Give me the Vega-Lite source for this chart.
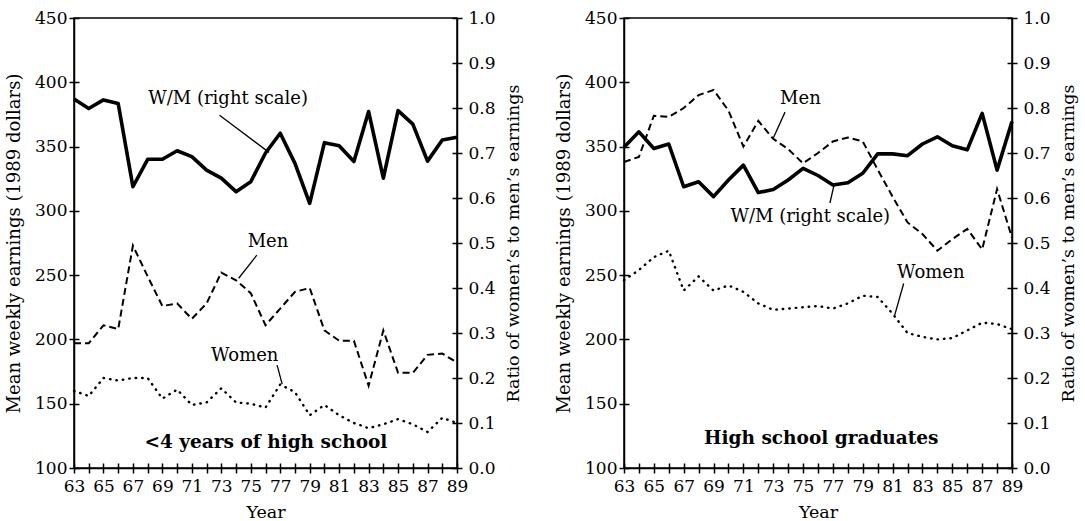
{
  "$schema": "https://vega.github.io/schema/vega-lite/v6.json",
  "background": "white",
  "padding": {"left": 4, "top": 8, "right": 5, "bottom": 5},
  "spacing": 31,
  "config": {
    "font": "DejaVu Serif",
    "view": {"stroke": "black", "strokeWidth": 1.5},
    "axis": {
      "grid": false, "labelOverlap": false, "tickCount": 40,
      "domainColor": "black", "domainWidth": 1.5,
      "tickColor": "black", "tickWidth": 1.5, "tickSize": 5,
      "labelColor": "black", "labelFont": "DejaVu Serif", "labelFontSize": 17,
      "titleColor": "black", "titleFont": "DejaVu Serif", "titleFontSize": 17.5, "titleFontWeight": "normal"
    },
    "text": {"font": "DejaVu Serif", "fontSize": 18, "color": "black"}
  },
  "datasets": {
    "earn": [
      {"panel":"lt4","series":"Men","year":1963,"value":197},{"panel":"lt4","series":"Men","year":1964,"value":197},{"panel":"lt4","series":"Men","year":1965,"value":211},{"panel":"lt4","series":"Men","year":1966,"value":208},{"panel":"lt4","series":"Men","year":1967,"value":273},{"panel":"lt4","series":"Men","year":1968,"value":249},{"panel":"lt4","series":"Men","year":1969,"value":226},{"panel":"lt4","series":"Men","year":1970,"value":228},{"panel":"lt4","series":"Men","year":1971,"value":216},{"panel":"lt4","series":"Men","year":1972,"value":228},{"panel":"lt4","series":"Men","year":1973,"value":252},{"panel":"lt4","series":"Men","year":1974,"value":246},{"panel":"lt4","series":"Men","year":1975,"value":236},{"panel":"lt4","series":"Men","year":1976,"value":211},{"panel":"lt4","series":"Men","year":1977,"value":224},{"panel":"lt4","series":"Men","year":1978,"value":237},{"panel":"lt4","series":"Men","year":1979,"value":240},{"panel":"lt4","series":"Men","year":1980,"value":207},{"panel":"lt4","series":"Men","year":1981,"value":199},{"panel":"lt4","series":"Men","year":1982,"value":199},{"panel":"lt4","series":"Men","year":1983,"value":164},{"panel":"lt4","series":"Men","year":1984,"value":207},{"panel":"lt4","series":"Men","year":1985,"value":174},{"panel":"lt4","series":"Men","year":1986,"value":174},{"panel":"lt4","series":"Men","year":1987,"value":188},{"panel":"lt4","series":"Men","year":1988,"value":189},{"panel":"lt4","series":"Men","year":1989,"value":182},
      {"panel":"lt4","series":"Women","year":1963,"value":160},{"panel":"lt4","series":"Women","year":1964,"value":156},{"panel":"lt4","series":"Women","year":1965,"value":170},{"panel":"lt4","series":"Women","year":1966,"value":168},{"panel":"lt4","series":"Women","year":1967,"value":170},{"panel":"lt4","series":"Women","year":1968,"value":170},{"panel":"lt4","series":"Women","year":1969,"value":154},{"panel":"lt4","series":"Women","year":1970,"value":161},{"panel":"lt4","series":"Women","year":1971,"value":149},{"panel":"lt4","series":"Women","year":1972,"value":151},{"panel":"lt4","series":"Women","year":1973,"value":162},{"panel":"lt4","series":"Women","year":1974,"value":151},{"panel":"lt4","series":"Women","year":1975,"value":150},{"panel":"lt4","series":"Women","year":1976,"value":147},{"panel":"lt4","series":"Women","year":1977,"value":165},{"panel":"lt4","series":"Women","year":1978,"value":159},{"panel":"lt4","series":"Women","year":1979,"value":141},{"panel":"lt4","series":"Women","year":1980,"value":149},{"panel":"lt4","series":"Women","year":1981,"value":141},{"panel":"lt4","series":"Women","year":1982,"value":135},{"panel":"lt4","series":"Women","year":1983,"value":131},{"panel":"lt4","series":"Women","year":1984,"value":134},{"panel":"lt4","series":"Women","year":1985,"value":138},{"panel":"lt4","series":"Women","year":1986,"value":134},{"panel":"lt4","series":"Women","year":1987,"value":128},{"panel":"lt4","series":"Women","year":1988,"value":139},{"panel":"lt4","series":"Women","year":1989,"value":135},
      {"panel":"lt4","series":"WM","year":1963,"value":0.820},{"panel":"lt4","series":"WM","year":1964,"value":0.799},{"panel":"lt4","series":"WM","year":1965,"value":0.818},{"panel":"lt4","series":"WM","year":1966,"value":0.810},{"panel":"lt4","series":"WM","year":1967,"value":0.625},{"panel":"lt4","series":"WM","year":1968,"value":0.686},{"panel":"lt4","series":"WM","year":1969,"value":0.686},{"panel":"lt4","series":"WM","year":1970,"value":0.705},{"panel":"lt4","series":"WM","year":1971,"value":0.692},{"panel":"lt4","series":"WM","year":1972,"value":0.662},{"panel":"lt4","series":"WM","year":1973,"value":0.644},{"panel":"lt4","series":"WM","year":1974,"value":0.614},{"panel":"lt4","series":"WM","year":1975,"value":0.636},{"panel":"lt4","series":"WM","year":1976,"value":0.700},{"panel":"lt4","series":"WM","year":1977,"value":0.744},{"panel":"lt4","series":"WM","year":1978,"value":0.677},{"panel":"lt4","series":"WM","year":1979,"value":0.588},{"panel":"lt4","series":"WM","year":1980,"value":0.723},{"panel":"lt4","series":"WM","year":1981,"value":0.716},{"panel":"lt4","series":"WM","year":1982,"value":0.681},{"panel":"lt4","series":"WM","year":1983,"value":0.792},{"panel":"lt4","series":"WM","year":1984,"value":0.644},{"panel":"lt4","series":"WM","year":1985,"value":0.794},{"panel":"lt4","series":"WM","year":1986,"value":0.764},{"panel":"lt4","series":"WM","year":1987,"value":0.682},{"panel":"lt4","series":"WM","year":1988,"value":0.729},{"panel":"lt4","series":"WM","year":1989,"value":0.735},
      {"panel":"hs","series":"Men","year":1963,"value":338},{"panel":"hs","series":"Men","year":1964,"value":342},{"panel":"hs","series":"Men","year":1965,"value":374},{"panel":"hs","series":"Men","year":1966,"value":373},{"panel":"hs","series":"Men","year":1967,"value":380},{"panel":"hs","series":"Men","year":1968,"value":390},{"panel":"hs","series":"Men","year":1969,"value":394},{"panel":"hs","series":"Men","year":1970,"value":378},{"panel":"hs","series":"Men","year":1971,"value":350},{"panel":"hs","series":"Men","year":1972,"value":370},{"panel":"hs","series":"Men","year":1973,"value":356},{"panel":"hs","series":"Men","year":1974,"value":348},{"panel":"hs","series":"Men","year":1975,"value":337},{"panel":"hs","series":"Men","year":1976,"value":345},{"panel":"hs","series":"Men","year":1977,"value":354},{"panel":"hs","series":"Men","year":1978,"value":357},{"panel":"hs","series":"Men","year":1979,"value":354},{"panel":"hs","series":"Men","year":1980,"value":332},{"panel":"hs","series":"Men","year":1981,"value":311},{"panel":"hs","series":"Men","year":1982,"value":291},{"panel":"hs","series":"Men","year":1983,"value":282},{"panel":"hs","series":"Men","year":1984,"value":269},{"panel":"hs","series":"Men","year":1985,"value":278},{"panel":"hs","series":"Men","year":1986,"value":286},{"panel":"hs","series":"Men","year":1987,"value":270},{"panel":"hs","series":"Men","year":1988,"value":317},{"panel":"hs","series":"Men","year":1989,"value":279},
      {"panel":"hs","series":"Women","year":1963,"value":246},{"panel":"hs","series":"Women","year":1964,"value":254},{"panel":"hs","series":"Women","year":1965,"value":264},{"panel":"hs","series":"Women","year":1966,"value":269},{"panel":"hs","series":"Women","year":1967,"value":238},{"panel":"hs","series":"Women","year":1968,"value":249},{"panel":"hs","series":"Women","year":1969,"value":238},{"panel":"hs","series":"Women","year":1970,"value":242},{"panel":"hs","series":"Women","year":1971,"value":237},{"panel":"hs","series":"Women","year":1972,"value":228},{"panel":"hs","series":"Women","year":1973,"value":223},{"panel":"hs","series":"Women","year":1974,"value":224},{"panel":"hs","series":"Women","year":1975,"value":225},{"panel":"hs","series":"Women","year":1976,"value":226},{"panel":"hs","series":"Women","year":1977,"value":224},{"panel":"hs","series":"Women","year":1978,"value":228},{"panel":"hs","series":"Women","year":1979,"value":234},{"panel":"hs","series":"Women","year":1980,"value":233},{"panel":"hs","series":"Women","year":1981,"value":220},{"panel":"hs","series":"Women","year":1982,"value":205},{"panel":"hs","series":"Women","year":1983,"value":202},{"panel":"hs","series":"Women","year":1984,"value":200},{"panel":"hs","series":"Women","year":1985,"value":201},{"panel":"hs","series":"Women","year":1986,"value":207},{"panel":"hs","series":"Women","year":1987,"value":213},{"panel":"hs","series":"Women","year":1988,"value":212},{"panel":"hs","series":"Women","year":1989,"value":208},
      {"panel":"hs","series":"WM","year":1963,"value":0.713},{"panel":"hs","series":"WM","year":1964,"value":0.747},{"panel":"hs","series":"WM","year":1965,"value":0.710},{"panel":"hs","series":"WM","year":1966,"value":0.720},{"panel":"hs","series":"WM","year":1967,"value":0.625},{"panel":"hs","series":"WM","year":1968,"value":0.636},{"panel":"hs","series":"WM","year":1969,"value":0.603},{"panel":"hs","series":"WM","year":1970,"value":0.640},{"panel":"hs","series":"WM","year":1971,"value":0.673},{"panel":"hs","series":"WM","year":1972,"value":0.612},{"panel":"hs","series":"WM","year":1973,"value":0.619},{"panel":"hs","series":"WM","year":1974,"value":0.640},{"panel":"hs","series":"WM","year":1975,"value":0.666},{"panel":"hs","series":"WM","year":1976,"value":0.650},{"panel":"hs","series":"WM","year":1977,"value":0.629},{"panel":"hs","series":"WM","year":1978,"value":0.634},{"panel":"hs","series":"WM","year":1979,"value":0.655},{"panel":"hs","series":"WM","year":1980,"value":0.698},{"panel":"hs","series":"WM","year":1981,"value":0.698},{"panel":"hs","series":"WM","year":1982,"value":0.694},{"panel":"hs","series":"WM","year":1983,"value":0.720},{"panel":"hs","series":"WM","year":1984,"value":0.736},{"panel":"hs","series":"WM","year":1985,"value":0.716},{"panel":"hs","series":"WM","year":1986,"value":0.707},{"panel":"hs","series":"WM","year":1987,"value":0.788},{"panel":"hs","series":"WM","year":1988,"value":0.662},{"panel":"hs","series":"WM","year":1989,"value":0.770}
    ]
  },
  "hconcat": [
    {
      "width": 383,
      "height": 450,
      "layer": [
        {
          "layer": [
            {
              "data": {"name": "earn"},
              "transform": [{"filter": "datum.panel == 'lt4' && datum.series == 'Men'"}],
              "mark": {"type": "line", "color": "black", "strokeWidth": 2, "strokeDash": [7, 4]},
              "encoding": {
                "x": {"field": "year", "type": "quantitative", "scale": {"domain": [1963, 1989], "nice": false, "zero": false},
                  "axis": {"orient": "bottom", "tickCount": 40, "values": [1963,1965,1967,1969,1971,1973,1975,1977,1979,1981,1983,1985,1987,1989],
                    "labelExpr": "toString(datum.value - 1900)", "labelFlush": false, "labelOverlap": false, "labelPadding": 5, "titlePadding": 9, "title": "Year"}},
                "y": {"field": "value", "type": "quantitative", "scale": {"domain": [100, 450], "nice": false, "zero": false},
                  "axis": {"orient": "left", "tickCount": 40, "values": [100,150,200,250,300,350,400,450], "labelPadding": 2, "titlePadding": 11, "titleFontSize": 18, "title": "Mean weekly earnings (1989 dollars)"}}
              }
            },
            {
              "data": {"name": "earn"},
              "transform": [{"filter": "datum.panel == 'lt4' && datum.series == 'Women'"}],
              "mark": {"type": "line", "color": "black", "strokeWidth": 2.4, "strokeDash": [0.5, 6], "strokeCap": "round"},
              "encoding": {
                "x": {"field": "year", "type": "quantitative", "scale": {"domain": [1963, 1989], "nice": false, "zero": false}},
                "y": {"field": "value", "type": "quantitative", "scale": {"domain": [100, 450], "nice": false, "zero": false}}
              }
            }
          ]
        },
        {
          "data": {"name": "earn"},
          "transform": [{"filter": "datum.panel == 'lt4' && datum.series == 'WM'"}],
          "mark": {"type": "line", "color": "black", "strokeWidth": 3.6, "strokeJoin": "round"},
          "encoding": {
            "x": {"field": "year", "type": "quantitative", "scale": {"domain": [1963, 1989], "nice": false, "zero": false},
              "axis": {"orient": "bottom", "tickCount": 40, "values": [1963,1964,1965,1966,1967,1968,1969,1970,1971,1972,1973,1974,1975,1976,1977,1978,1979,1980,1981,1982,1983,1984,1985,1986,1987,1988,1989], "tickSize": -5, "labels": false, "domain": false, "title": null}},
            "y": {"field": "value", "type": "quantitative", "scale": {"domain": [0, 1], "nice": false, "zero": false},
              "axis": {"orient": "right", "tickCount": 40, "values": [0,0.1,0.2,0.3,0.4,0.5,0.6,0.7,0.8,0.9,1], "format": ".1f", "labelPadding": 6, "titlePadding": 9, "titleAngle": 270, "titleBaseline": "top", "title": "Ratio of women’s to men’s earnings"}}
          }
        },
        {
          "data": {"values": [{}]},
          "layer": [
            {
              "mark": {"type": "text", "text": "Men", "align": "center", "baseline": "middle"},
              "encoding": {
                "x": {"datum": 1976.17, "type": "quantitative", "scale": {"domain": [1963, 1989], "nice": false, "zero": false},
                  "axis": {"orient": "bottom", "tickCount": 40, "values": [1964,1966,1968,1970,1972,1974,1976,1978,1980,1982,1984,1986,1988], "tickSize": 5, "labels": false, "domain": false, "title": null}},
                "y": {"datum": 275.8, "type": "quantitative", "scale": {"domain": [100, 450], "nice": false, "zero": false},
                  "axis": {"orient": "left", "tickCount": 40, "values": [100,150,200,250,300,350,400,450], "tickSize": -5, "labels": false, "domain": false, "title": null}}
              }
            },
            {
              "mark": {"type": "rule", "color": "black", "strokeWidth": 1.3},
              "encoding": {
                "x": {"datum": 1975.41, "type": "quantitative", "scale": {"domain": [1963, 1989], "nice": false, "zero": false},
                  "axis": {"orient": "bottom", "tickCount": 40, "values": [1964,1966,1968,1970,1972,1974,1976,1978,1980,1982,1984,1986,1988], "tickSize": 5, "labels": false, "domain": false, "title": null}},
                "y": {"datum": 265.5, "type": "quantitative", "scale": {"domain": [100, 450], "nice": false, "zero": false},
                  "axis": {"orient": "left", "tickCount": 40, "values": [100,150,200,250,300,350,400,450], "tickSize": -5, "labels": false, "domain": false, "title": null}},
                "x2": {"datum": 1974.18}, "y2": {"datum": 247.6}
              }
            },
            {
              "mark": {"type": "text", "text": "Women", "align": "center", "baseline": "middle"},
              "encoding": {
                "x": {"datum": 1974.59, "type": "quantitative", "scale": {"domain": [1963, 1989], "nice": false, "zero": false},
                  "axis": {"orient": "bottom", "tickCount": 40, "values": [1964,1966,1968,1970,1972,1974,1976,1978,1980,1982,1984,1986,1988], "tickSize": 5, "labels": false, "domain": false, "title": null}},
                "y": {"datum": 187, "type": "quantitative", "scale": {"domain": [100, 450], "nice": false, "zero": false},
                  "axis": {"orient": "left", "tickCount": 40, "values": [100,150,200,250,300,350,400,450], "tickSize": -5, "labels": false, "domain": false, "title": null}}
              }
            },
            {
              "mark": {"type": "rule", "color": "black", "strokeWidth": 1.3},
              "encoding": {
                "x": {"datum": 1976.79, "type": "quantitative", "scale": {"domain": [1963, 1989], "nice": false, "zero": false},
                  "axis": {"orient": "bottom", "tickCount": 40, "values": [1964,1966,1968,1970,1972,1974,1976,1978,1980,1982,1984,1986,1988], "tickSize": 5, "labels": false, "domain": false, "title": null}},
                "y": {"datum": 180, "type": "quantitative", "scale": {"domain": [100, 450], "nice": false, "zero": false},
                  "axis": {"orient": "left", "tickCount": 40, "values": [100,150,200,250,300,350,400,450], "tickSize": -5, "labels": false, "domain": false, "title": null}},
                "x2": {"datum": 1977.13}, "y2": {"datum": 165.3}
              }
            },
            {
              "mark": {"type": "text", "text": "<4 years of high school", "align": "center", "baseline": "middle", "fontWeight": "bold", "fontSize": 18.5},
              "encoding": {
                "x": {"datum": 1976.03, "type": "quantitative", "scale": {"domain": [1963, 1989], "nice": false, "zero": false},
                  "axis": {"orient": "bottom", "tickCount": 40, "values": [1964,1966,1968,1970,1972,1974,1976,1978,1980,1982,1984,1986,1988], "tickSize": 5, "labels": false, "domain": false, "title": null}},
                "y": {"datum": 120.4, "type": "quantitative", "scale": {"domain": [100, 450], "nice": false, "zero": false},
                  "axis": {"orient": "left", "tickCount": 40, "values": [100,150,200,250,300,350,400,450], "tickSize": -5, "labels": false, "domain": false, "title": null}}
              }
            }
          ]
        },
        {
          "data": {"values": [{}]},
          "layer": [
            {
              "mark": {"type": "text", "text": "W/M (right scale)", "align": "center", "baseline": "middle"},
              "encoding": {
                "x": {"datum": 1973.46, "type": "quantitative", "scale": {"domain": [1963, 1989], "nice": false, "zero": false}, "axis": null},
                "y": {"datum": 0.82, "type": "quantitative", "scale": {"domain": [0, 1], "nice": false, "zero": false},
                  "axis": {"orient": "right", "tickCount": 40, "values": [0,0.1,0.2,0.3,0.4,0.5,0.6,0.7,0.8,0.9,1], "tickSize": -5, "labels": false, "domain": false, "title": null}}
              }
            },
            {
              "mark": {"type": "rule", "color": "black", "strokeWidth": 1.3},
              "encoding": {
                "x": {"datum": 1972.88, "type": "quantitative", "scale": {"domain": [1963, 1989], "nice": false, "zero": false}, "axis": null},
                "y": {"datum": 0.7837, "type": "quantitative", "scale": {"domain": [0, 1], "nice": false, "zero": false},
                  "axis": {"orient": "right", "tickCount": 40, "values": [0,0.1,0.2,0.3,0.4,0.5,0.6,0.7,0.8,0.9,1], "tickSize": -5, "labels": false, "domain": false, "title": null}},
                "x2": {"datum": 1976.24}, "y2": {"datum": 0.7014}
              }
            }
          ]
        }
      ],
      "resolve": {"scale": {"x": "independent", "y": "independent"}}
    },
    {
      "width": 388,
      "height": 450,
      "layer": [
        {
          "layer": [
            {
              "data": {"name": "earn"},
              "transform": [{"filter": "datum.panel == 'hs' && datum.series == 'Men'"}],
              "mark": {"type": "line", "color": "black", "strokeWidth": 2, "strokeDash": [7, 4]},
              "encoding": {
                "x": {"field": "year", "type": "quantitative", "scale": {"domain": [1963, 1989], "nice": false, "zero": false},
                  "axis": {"orient": "bottom", "tickCount": 40, "values": [1963,1965,1967,1969,1971,1973,1975,1977,1979,1981,1983,1985,1987,1989],
                    "labelExpr": "toString(datum.value - 1900)", "labelFlush": false, "labelOverlap": false, "labelPadding": 5, "titlePadding": 9, "title": "Year"}},
                "y": {"field": "value", "type": "quantitative", "scale": {"domain": [100, 450], "nice": false, "zero": false},
                  "axis": {"orient": "left", "tickCount": 40, "values": [100,150,200,250,300,350,400,450], "labelPadding": 2, "titlePadding": 11, "titleFontSize": 18, "title": "Mean weekly earnings (1989 dollars)"}}
              }
            },
            {
              "data": {"name": "earn"},
              "transform": [{"filter": "datum.panel == 'hs' && datum.series == 'Women'"}],
              "mark": {"type": "line", "color": "black", "strokeWidth": 2.4, "strokeDash": [0.5, 6], "strokeCap": "round"},
              "encoding": {
                "x": {"field": "year", "type": "quantitative", "scale": {"domain": [1963, 1989], "nice": false, "zero": false}},
                "y": {"field": "value", "type": "quantitative", "scale": {"domain": [100, 450], "nice": false, "zero": false}}
              }
            }
          ]
        },
        {
          "data": {"name": "earn"},
          "transform": [{"filter": "datum.panel == 'hs' && datum.series == 'WM'"}],
          "mark": {"type": "line", "color": "black", "strokeWidth": 3.6, "strokeJoin": "round"},
          "encoding": {
            "x": {"field": "year", "type": "quantitative", "scale": {"domain": [1963, 1989], "nice": false, "zero": false},
              "axis": {"orient": "bottom", "tickCount": 40, "values": [1963,1964,1965,1966,1967,1968,1969,1970,1971,1972,1973,1974,1975,1976,1977,1978,1979,1980,1981,1982,1983,1984,1985,1986,1987,1988,1989], "tickSize": -5, "labels": false, "domain": false, "title": null}},
            "y": {"field": "value", "type": "quantitative", "scale": {"domain": [0, 1], "nice": false, "zero": false},
              "axis": {"orient": "right", "tickCount": 40, "values": [0,0.1,0.2,0.3,0.4,0.5,0.6,0.7,0.8,0.9,1], "format": ".1f", "labelPadding": 6, "titlePadding": 9, "titleAngle": 270, "titleBaseline": "top", "title": "Ratio of women’s to men’s earnings"}}
          }
        },
        {
          "data": {"values": [{}]},
          "layer": [
            {
              "mark": {"type": "text", "text": "Men", "align": "center", "baseline": "middle"},
              "encoding": {
                "x": {"datum": 1974.82, "type": "quantitative", "scale": {"domain": [1963, 1989], "nice": false, "zero": false},
                  "axis": {"orient": "bottom", "tickCount": 40, "values": [1964,1966,1968,1970,1972,1974,1976,1978,1980,1982,1984,1986,1988], "tickSize": 5, "labels": false, "domain": false, "title": null}},
                "y": {"datum": 386.7, "type": "quantitative", "scale": {"domain": [100, 450], "nice": false, "zero": false},
                  "axis": {"orient": "left", "tickCount": 40, "values": [100,150,200,250,300,350,400,450], "tickSize": -5, "labels": false, "domain": false, "title": null}}
              }
            },
            {
              "mark": {"type": "rule", "color": "black", "strokeWidth": 1.3},
              "encoding": {
                "x": {"datum": 1973.79, "type": "quantitative", "scale": {"domain": [1963, 1989], "nice": false, "zero": false},
                  "axis": {"orient": "bottom", "tickCount": 40, "values": [1964,1966,1968,1970,1972,1974,1976,1978,1980,1982,1984,1986,1988], "tickSize": 5, "labels": false, "domain": false, "title": null}},
                "y": {"datum": 376.8, "type": "quantitative", "scale": {"domain": [100, 450], "nice": false, "zero": false},
                  "axis": {"orient": "left", "tickCount": 40, "values": [100,150,200,250,300,350,400,450], "tickSize": -5, "labels": false, "domain": false, "title": null}},
                "x2": {"datum": 1972.99}, "y2": {"datum": 356.2}
              }
            },
            {
              "mark": {"type": "text", "text": "Women", "align": "center", "baseline": "middle"},
              "encoding": {
                "x": {"datum": 1983.56, "type": "quantitative", "scale": {"domain": [1963, 1989], "nice": false, "zero": false},
                  "axis": {"orient": "bottom", "tickCount": 40, "values": [1964,1966,1968,1970,1972,1974,1976,1978,1980,1982,1984,1986,1988], "tickSize": 5, "labels": false, "domain": false, "title": null}},
                "y": {"datum": 251.7, "type": "quantitative", "scale": {"domain": [100, 450], "nice": false, "zero": false},
                  "axis": {"orient": "left", "tickCount": 40, "values": [100,150,200,250,300,350,400,450], "tickSize": -5, "labels": false, "domain": false, "title": null}}
              }
            },
            {
              "mark": {"type": "rule", "color": "black", "strokeWidth": 1.3},
              "encoding": {
                "x": {"datum": 1981.74, "type": "quantitative", "scale": {"domain": [1963, 1989], "nice": false, "zero": false},
                  "axis": {"orient": "bottom", "tickCount": 40, "values": [1964,1966,1968,1970,1972,1974,1976,1978,1980,1982,1984,1986,1988], "tickSize": 5, "labels": false, "domain": false, "title": null}},
                "y": {"datum": 243.5, "type": "quantitative", "scale": {"domain": [100, 450], "nice": false, "zero": false},
                  "axis": {"orient": "left", "tickCount": 40, "values": [100,150,200,250,300,350,400,450], "tickSize": -5, "labels": false, "domain": false, "title": null}},
                "x2": {"datum": 1981.14}, "y2": {"datum": 218.9}
              }
            },
            {
              "mark": {"type": "text", "text": "High school graduates", "align": "center", "baseline": "middle", "fontWeight": "bold", "fontSize": 18.5},
              "encoding": {
                "x": {"datum": 1976.22, "type": "quantitative", "scale": {"domain": [1963, 1989], "nice": false, "zero": false},
                  "axis": {"orient": "bottom", "tickCount": 40, "values": [1964,1966,1968,1970,1972,1974,1976,1978,1980,1982,1984,1986,1988], "tickSize": 5, "labels": false, "domain": false, "title": null}},
                "y": {"datum": 123, "type": "quantitative", "scale": {"domain": [100, 450], "nice": false, "zero": false},
                  "axis": {"orient": "left", "tickCount": 40, "values": [100,150,200,250,300,350,400,450], "tickSize": -5, "labels": false, "domain": false, "title": null}}
              }
            }
          ]
        },
        {
          "data": {"values": [{}]},
          "layer": [
            {
              "mark": {"type": "text", "text": "W/M (right scale)", "align": "center", "baseline": "middle"},
              "encoding": {
                "x": {"datum": 1975.48, "type": "quantitative", "scale": {"domain": [1963, 1989], "nice": false, "zero": false}, "axis": null},
                "y": {"datum": 0.5571, "type": "quantitative", "scale": {"domain": [0, 1], "nice": false, "zero": false},
                  "axis": {"orient": "right", "tickCount": 40, "values": [0,0.1,0.2,0.3,0.4,0.5,0.6,0.7,0.8,0.9,1], "tickSize": -5, "labels": false, "domain": false, "title": null}}
              }
            },
            {
              "mark": {"type": "rule", "color": "black", "strokeWidth": 1.3},
              "encoding": {
                "x": {"datum": 1976.8, "type": "quantitative", "scale": {"domain": [1963, 1989], "nice": false, "zero": false}, "axis": null},
                "y": {"datum": 0.5889, "type": "quantitative", "scale": {"domain": [0, 1], "nice": false, "zero": false},
                  "axis": {"orient": "right", "tickCount": 40, "values": [0,0.1,0.2,0.3,0.4,0.5,0.6,0.7,0.8,0.9,1], "tickSize": -5, "labels": false, "domain": false, "title": null}},
                "x2": {"datum": 1977.07}, "y2": {"datum": 0.628}
              }
            }
          ]
        }
      ],
      "resolve": {"scale": {"x": "independent", "y": "independent"}}
    }
  ]
}
